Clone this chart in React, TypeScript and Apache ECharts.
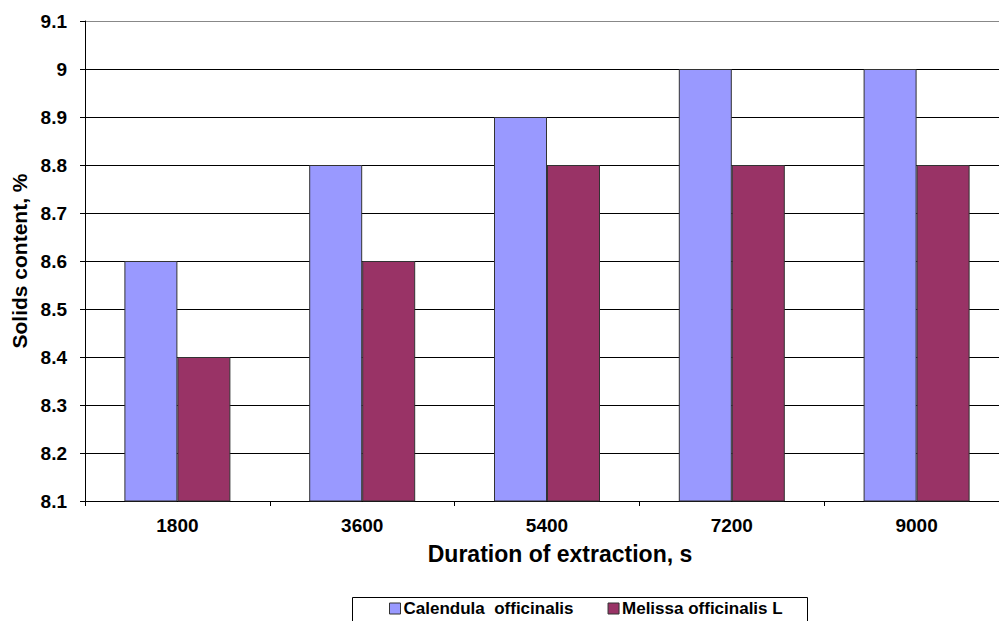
import React, { useEffect, useRef } from "react";
import * as echarts from "echarts";

const categories = ["1800", "3600", "5400", "7200", "9000"];
const calendula = [8.6, 8.8, 8.9, 9.0, 9.0];
const melissa = [8.4, 8.6, 8.8, 8.8, 8.8];
const seriesNames = ["Calendula  officinalis", "Melissa officinalis L"];

const FONT = 'Arial, "Liberation Sans", sans-serif';

export default function App() {
  const ref = useRef<HTMLDivElement>(null);
  useEffect(() => {
    if (!ref.current) return;
    const chart = echarts.init(ref.current, null, { renderer: "svg" });
    const splitColors = Array.from({ length: 11 }, (_, i) => (i === 10 ? "#888888" : "#000000"));
    chart.setOption({
      animation: false,
      backgroundColor: "#ffffff",
      grid: {
        left: 85,
        top: 21,
        width: 924,
        height: 480,
        containLabel: false,
        outerBoundsMode: "none",
      },
      legend: {
        left: 389,
        top: 600,
        padding: 0,
        itemWidth: 11,
        itemHeight: 11,
        itemGap: 34,
        icon: "rect",
        textStyle: { fontFamily: FONT, fontWeight: "bold", fontSize: 17, color: "#000", padding: [0, 0, 0, -2] },
        data: seriesNames.map((n) => ({ name: n, itemStyle: { borderColor: "#333", borderWidth: 1 } })),
      },
      graphic: [
        {
          type: "rect",
          shape: { x: 352.5, y: 597.5, width: 455, height: 30 },
          style: { fill: "none", stroke: "#000", lineWidth: 1 },
          z: 0,
        },
      ],
      xAxis: {
        type: "category",
        data: categories,
        name: "Duration of extraction, s",
        nameLocation: "middle",
        nameGap: 41,
        nameTextStyle: {
          fontFamily: FONT,
          fontWeight: "bold",
          fontSize: 23,
          color: "#000",
          padding: [0, 0, 0, 26],
        },
        axisLine: { lineStyle: { color: "#000", width: 1 } },
        axisTick: { show: true, length: 5, lineStyle: { color: "#000" } },
        axisLabel: {
          fontFamily: FONT,
          fontWeight: "bold",
          fontSize: 19,
          color: "#000",
          margin: 15,
        },
        splitLine: { show: false },
      },
      yAxis: {
        type: "value",
        min: 8.1,
        max: 9.1,
        interval: 0.1,
        name: "Solids content, %",
        nameLocation: "middle",
        nameGap: 52,
        nameTextStyle: { fontFamily: FONT, fontWeight: "bold", fontSize: 21, color: "#000" },
        axisLine: { show: true, lineStyle: { color: "#000", width: 1 } },
        axisTick: { show: true, length: 5, lineStyle: { color: "#000" } },
        axisLabel: {
          fontFamily: FONT,
          fontWeight: "bold",
          fontSize: 19,
          color: "#000",
          margin: 18,
          formatter: (v: number) => String(Number(v.toFixed(1))),
        },
        splitLine: { show: true, lineStyle: { color: splitColors, width: 1 } },
      },
      series: [
        {
          name: seriesNames[0],
          type: "bar",
          data: calendula,
          barWidth: 53,
          barGap: "0%",
          itemStyle: { color: "#9999FF", borderColor: "#333333", borderWidth: 1 },
        },
        {
          name: seriesNames[1],
          type: "bar",
          data: melissa,
          barWidth: 53,
          barGap: "0%",
          itemStyle: { color: "#993366", borderColor: "#333333", borderWidth: 1 },
        },
      ],
    });
    return () => chart.dispose();
  }, []);
  return (
    <div
      ref={ref}
      style={{ position: "absolute", left: 0, top: 0, width: 999, height: 621 }}
    />
  );
}
